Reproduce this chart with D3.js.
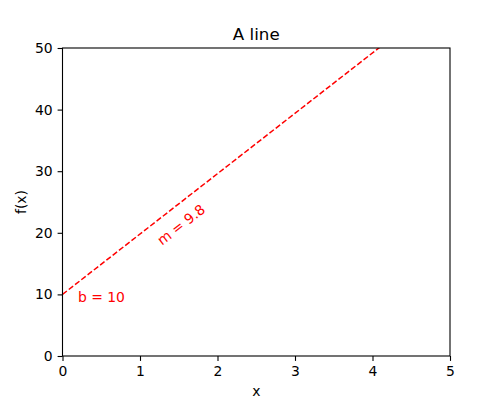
<!DOCTYPE html>
<html><head><meta charset="utf-8">
<script src="https://cdn.jsdelivr.net/npm/d3@7"></script>
<style>body{margin:0;background:#fff}svg{display:block}text{font-family:"DejaVu Sans",sans-serif}</style>
</head><body>
<script>
const xDomain = [0, 5];
const yDomain = [0, 50];
const xTicks = [0, 1, 2, 3, 4, 5];
const yTicks = [0, 10, 20, 30, 40, 50];
const slope = 9.8;
const intercept = 10;
const lineX = [0, 5];
const titleText = "A line";
const xLabel = "x";
const yLabel = "f(x)";
const bLabel = {text: "b = 10", x: 0.2, y: 9.6};
const mLabel = {text: "m = 9.8", x: 1.53, y: 21.3};

const W = 500, H = 400;
const m = {l: 62.5, r: 450, t: 48, b: 356};
const svg = d3.select("body").append("svg").attr("width", W).attr("height", H);
const x = d3.scaleLinear().domain(xDomain).range([m.l, m.r]);
const y = d3.scaleLinear().domain(yDomain).range([m.b, m.t]);

const defs = svg.append("defs");
defs.append("clipPath").attr("id", "clip").append("rect")
  .attr("x", m.l).attr("y", m.t).attr("width", m.r - m.l).attr("height", m.b - m.t);

// line
const pts = lineX.map(v => [v, slope * v + intercept]);
svg.append("path").attr("clip-path", "url(#clip)")
  .attr("d", d3.line().x(d => x(d[0])).y(d => y(d[1]))(pts))
  .attr("stroke", "red").attr("stroke-width", 1.5).attr("fill", "none")
  .attr("stroke-dasharray", "5.55,2.4");

// axes
const fs = 13.9;
const xa = svg.append("g").attr("transform", `translate(0,${m.b})`)
  .call(d3.axisBottom(x).tickValues(xTicks).tickSize(4.9).tickPadding(4.9).tickFormat(d3.format("d")));
const ya = svg.append("g").attr("transform", `translate(${m.l},0)`)
  .call(d3.axisLeft(y).tickValues(yTicks).tickSize(4.9).tickPadding(4.9).tickFormat(d3.format("d")));
[xa, ya].forEach(g => {
  g.select(".domain").remove();
  g.selectAll("line").attr("stroke", "#000").attr("stroke-width", 1.1);
  g.selectAll("text").attr("font-size", fs).attr("fill", "#000").attr("font-family", "DejaVu Sans");
});

// frame
svg.append("rect").attr("x", m.l).attr("y", m.t).attr("width", m.r - m.l).attr("height", m.b - m.t)
  .attr("fill", "none").attr("stroke", "#000").attr("stroke-width", 1.1);

// labels
svg.append("text").attr("x", (m.l + m.r) / 2).attr("y", 39.5).attr("text-anchor", "middle")
  .attr("font-size", 16.7).text(titleText);
svg.append("text").attr("x", (m.l + m.r) / 2).attr("y", 396).attr("text-anchor", "middle")
  .attr("font-size", fs).text(xLabel);
svg.append("text").attr("transform", `translate(26,${(m.t + m.b) / 2}) rotate(-90)`)
  .attr("text-anchor", "middle").attr("font-size", fs).text(yLabel);

svg.append("text").attr("x", x(bLabel.x)).attr("y", y(bLabel.y)).attr("dy", "0.35em")
  .attr("fill", "red").attr("font-size", fs).text(bLabel.text);
const ang = Math.atan2(y(0) - y(slope), x(1) - x(0)) * 180 / Math.PI;
svg.append("text").attr("transform", `translate(${x(mLabel.x)},${y(mLabel.y)}) rotate(${-ang})`)
  .attr("text-anchor", "middle").attr("dy", "0.35em")
  .attr("fill", "red").attr("font-size", fs).text(mLabel.text);
</script>
</body></html>
